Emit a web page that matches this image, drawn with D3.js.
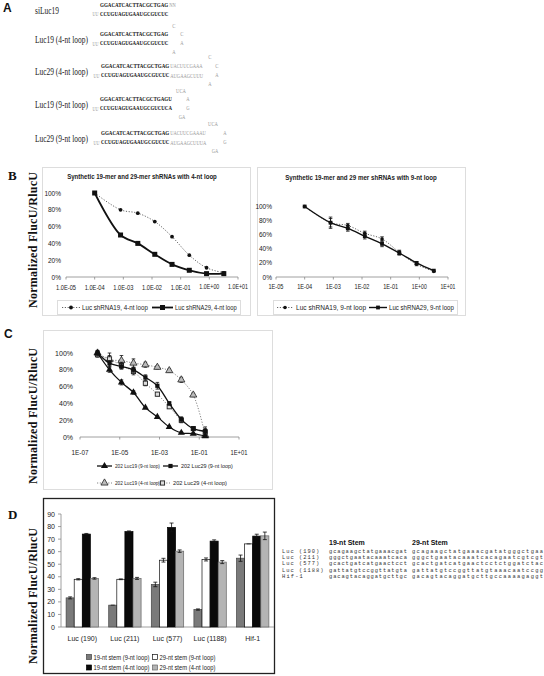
<!DOCTYPE html>
<html><head><meta charset="utf-8">
<script src="https://cdn.jsdelivr.net/npm/d3@7"></script>
<style>body{margin:0;background:#fff}</style>
</head><body>
<script>
// ---------------- DATA ----------------
// Panel A: shRNA constructs
const constructLabels = ["siLuc19","Luc19 (4-nt loop)","Luc29 (4-nt loop)","Luc19 (9-nt loop)","Luc29 (9-nt loop)"];
const topStem = ["GGACATCACTTACGCTGAG","GGACATCACTTACGCTGAG","GGACATCACTTACGCTGAG","GGACATCACTTACGCTGAGU","GGACATCACTTACGCTGAG"];
const topTail = ["NN","","UACUUCGAAA","","UACUUCGAAAU"];
const botStem = ["CCUGUAGUGAAUGCGUCUC","CCUGUAGUGAAUGCGUCUC","CCUGUAGUGAAUGCGUCUC","CCUGUAGUGAAUGCGUCUCA","CCUGUAGUGAAUGCGUCUC"];
const botTail = ["","","AUGAAGCUUU","","AUGAAGCUUUA"];
const loopLetters = [[],["C","C","A","A"],["C","C","A","A"],["UCA","A","G","GA"],["UCA","A","G","GA"]];

// Panel B: synthetic shRNAs (concentration, % FlucU/RlucU)
const concB = [1e-4, 8e-4, 3.2e-3, 1.25e-2, 5e-2, 2e-1, 8e-1, 3.2];
const b4Luc19 = [100, 80, 76, 66, 48, 26, 11, 5];
const b4Luc29 = [100, 50, 40, 27, 15, 8, 4, 4];
const b9Luc19 = [100, 77, 73, 62, 54, 35, 18, 8];
const b9Luc19Err = [0, 8, 3, 3, 3, 3, 2, 0];
const b9Luc29 = [100, 77, 69, 58, 47, 34, 20, 9];
const b9Luc29Err = [0, 6, 4, 4, 4, 3, 2, 0];
const bTicksX = [1e-5,1e-4,1e-3,1e-2,1e-1,1e0,1e1];
const bLabelsLeft = ["1.0E-05","1.0E-04","1.0E-03","1.0E-02","1.0E-01","1.0E+00","1.0E+01"];
const bLabelsRight = ["1E-05","1E-04","1E-03","1E-02","1E-01","1E+00","1E+01"];
const pctTicks = [0,20,40,60,80,100];

// Panel C: expressed shRNAs
const concC = [7.6e-7, 3.05e-6, 1.22e-5, 4.9e-5, 1.95e-4, 7.8e-4, 3.1e-3, 1.25e-2, 5e-2, 2e-1];
const c19nine = [100, 80, 65, 53, 35, 24, 12, 5, 4, 1];
const c19nineErr = [3, 3, 3, 2, 1, 1, 1, 1, 1, 1];
const c29nine = [100, 88, 84, 80, 71, 61, 40, 21, 10, 7];
const c29nineErr = [2, 3, 3, 3, 3, 4, 2, 3, 2, 3];
const c19four = [100, 92, 91, 88, 86, 83, 79, 68, 50, 2];
const c19fourErr = [3, 8, 6, 5, 3, 2, 2, 3, 2, 2];
const c29four = [98, 93, 85, 78, 64, 51, 36, 20, 10, 6];
const c29fourErr = [3, 4, 4, 4, 3, 2, 2, 3, 2, 6];
const cTicksX = [1e-7,1e-5,1e-3,1e-1,1e1];
const cLabelsX = ["1E-07","1E-05","1E-03","1E-01","1E+01"];

// Panel D: bar chart
const dGroups = ["Luc (190)","Luc (211)","Luc (577)","Luc (1188)","Hif-1"];
const dSeries = ["19-nt stem (9-nt loop)","29-nt stem (9-nt loop)","19-nt stem (4-nt loop)","29-nt stem (4-nt loop)"];
const d19nine = [23.2, 17.4, 33.9, 13.9, 54.8];
const d19nineErr = [0.8, 0, 1.8, 0.5, 2.5];
const d29nine = [38, 38, 53.2, 53.8, 66.2];
const d29nineErr = [0.5, 0.3, 1.5, 1.2, 0];
const d19four = [74, 76, 79.3, 68.4, 72.4];
const d19fourErr = [0.5, 0.5, 3.5, 1, 1.5];
const d29four = [38.7, 38.7, 60.4, 51.7, 72.6];
const d29fourErr = [0.6, 0.8, 1, 1.2, 3];
const dTicks = [0,10,20,30,40,50,60,70,80,90];

// Sequence table
const seqNames = ["Luc (190)","Luc (211)","Luc (577)","Luc (1188)","Hif-1"];
const seq19 = ["gcagaagctatgaaacgat","gggctgaatacaaatcaca","gcactgatcatgaactcct","gattatgtccggttatgta","gacagtacaggatgcttgc"];
const seq29 = ["gcagaagctatgaaacgatatgggctgaa","gggctgaatacaaatcacagaatcgtcgt","gcactgatcatgaactcctctggatctac","gattatgtccggttatgtaaacaatccgg","gacagtacaggatgcttgccaaaagaggt"];

// ---------------- DRAW ----------------
const SANS="'Liberation Sans', Arial, sans-serif", SERIF="'Liberation Serif', 'Times New Roman', serif", MONO="'Liberation Mono', 'Courier New', monospace";
const svg = d3.select("body").append("svg").attr("width",544).attr("height",676);
svg.append("rect").attr("width",544).attr("height",676).attr("fill","#fff");

// text helper: if len given, the font is shrunk so its natural width fits len,
// and a vertical stretch keeps the apparent glyph height.
function txt(g,x,y,s,o={}){
  const size=o.size||7;
  const t=g.append("text").attr("x",x).attr("y",y).text(s)
    .attr("font-family",o.family||SANS).attr("font-size",size)
    .attr("font-weight",o.weight||"normal").attr("fill",o.fill||"#222")
    .attr("text-anchor",o.anchor||"start").attr("dominant-baseline","central");
  let tf="";
  if(o.rotate){tf+=`rotate(${o.rotate},${x},${y}) `;}
  if(o.len){
    const w=t.node().getComputedTextLength();
    if(w>o.len){
      const ns=size*o.len/w;
      t.attr("font-size",ns);
      const sy=size/ns;
      tf+=`translate(${x},${y}) scale(1,${sy}) translate(${-x},${-y})`;
    } else {
      t.attr("textLength",o.len).attr("lengthAdjust",o.adjust||"spacing");
    }
  }
  if(tf) t.attr("transform",tf);
  return t;
}

// Panel letters
txt(svg,3,8,"A",{size:12,weight:"bold",family:SANS,fill:"#111"});
txt(svg,8,175,"B",{size:13,weight:"bold",family:SERIF,fill:"#111"});
txt(svg,4,334,"C",{size:12,weight:"bold",family:SANS,fill:"#111"});
txt(svg,8,514,"D",{size:13,weight:"bold",family:SERIF,fill:"#111"});

// ----- Panel A -----
const gA = svg.append("g");
const rowTop = [4.5, 34, 66, 99, 133];
const labelLen = [24,53,53,53,53];
const stemX = [100,100,101,100,101];
const loopPos = [
  [],
  [[174,-8],[182,0],[182,9],[174,18]],
  [[210,-9],[217,0],[217,9],[210,18]],
  [[181,-8],[188,0],[188,9],[182,18]],
  [[213,-9],[225,0],[225,9],[215,18]]
];
const GRAY="#9a9a9a";
constructLabels.forEach((lab,i)=>{
  const ty=rowTop[i], by=ty+9.3;
  txt(gA,35,ty+6,lab,{size:10,family:SERIF,fill:"#222",len:labelLen[i]});
  const sx=stemX[i];
  const tl = topStem[i].length*3.6;
  txt(gA,sx,ty,topStem[i],{size:6,weight:"bold",family:SERIF,fill:"#111",len:tl});
  if(topTail[i]) txt(gA,sx+tl+0.8,ty,topTail[i],{size:6,family:SERIF,fill:GRAY,len:topTail[i].length*3.25});
  txt(gA,sx-7.5,by,"UU",{size:6,family:SERIF,fill:GRAY,len:6});
  const bl = botStem[i].length*3.6;
  txt(gA,sx,by,botStem[i],{size:6,weight:"bold",family:SERIF,fill:"#111",len:bl});
  if(botTail[i]) txt(gA,sx+bl+0.8,by,botTail[i],{size:6,family:SERIF,fill:GRAY,len:botTail[i].length*3.3});
  loopLetters[i].forEach((L,j)=>{
    txt(gA,loopPos[i][j][0],ty+loopPos[i][j][1],L,{size:6,family:SERIF,fill:GRAY,anchor:"middle",len:L.length*3.3});
  });
});

// ----- generic log-x line chart -----
function yLabel(cy){
  txt(svg,33,cy,"Normalized FlucU/RlucU",{size:12,weight:"bold",family:SERIF,fill:"#111",anchor:"middle",rotate:-90,len:136});
}
function lineChart(c){
  const g=svg.append("g");
  const x=d3.scaleLog().domain(c.xd).range(c.xr);
  const y=d3.scaleLinear().domain([0,100]).range(c.yr);
  g.append("line").attr("x1",c.xr[0]).attr("x2",c.xr[1]).attr("y1",c.yr[0]).attr("y2",c.yr[0]).attr("stroke","#888").attr("stroke-width",0.8);
  c.xt.forEach((v,i)=>{
    g.append("line").attr("x1",x(v)).attr("x2",x(v)).attr("y1",c.yr[0]).attr("y2",c.yr[0]+2.5).attr("stroke","#888").attr("stroke-width",0.8);
    txt(g,x(v),c.xly,c.xl[i],{size:c.fs,anchor:"middle",len:c.xlen});
  });
  pctTicks.forEach(v=>txt(g,c.xr[0]-c.ylg,y(v),v+"%",{size:c.fs,anchor:"end"}));
  c.series.forEach(s=>{
    const pts=c.conc.map((cv,i)=>[x(cv),y(s.v[i])]);
    g.append("path").attr("d",d3.line().curve(d3.curveCatmullRom.alpha(0.5))(pts))
      .attr("fill","none").attr("stroke",s.color).attr("stroke-width",s.w).attr("stroke-dasharray",s.dash||null);
    if(s.e){
      c.conc.forEach((cv,i)=>{
        if(!s.e[i]) return;
        const xx=x(cv), y1=y(s.v[i]+s.e[i]), y2=y(s.v[i]-s.e[i]);
        g.append("line").attr("x1",xx).attr("x2",xx).attr("y1",y1).attr("y2",y2).attr("stroke","#111").attr("stroke-width",0.8);
        [y1,y2].forEach(yy=>g.append("line").attr("x1",xx-1.8).attr("x2",xx+1.8).attr("y1",yy).attr("y2",yy).attr("stroke","#111").attr("stroke-width",0.8));
      });
    }
    pts.forEach(p=>marker(g,s.m,p[0],p[1],s.ms));
  });
  return g;
}
function marker(g,type,x,y,sz){
  if(type==="dot") g.append("circle").attr("cx",x).attr("cy",y).attr("r",sz).attr("fill","#111");
  else if(type==="square") g.append("rect").attr("x",x-sz/2).attr("y",y-sz/2).attr("width",sz).attr("height",sz).attr("fill","#111");
  else if(type==="osquare") g.append("rect").attr("x",x-sz/2).attr("y",y-sz/2).attr("width",sz).attr("height",sz).attr("fill","#ddd").attr("stroke","#222").attr("stroke-width",0.9);
  else if(type==="tri") g.append("path").attr("d",d3.symbol(d3.symbolTriangle,sz)()).attr("transform",`translate(${x},${y})`).attr("fill","#111");
  else if(type==="otri") g.append("path").attr("d",d3.symbol(d3.symbolTriangle,sz)()).attr("transform",`translate(${x},${y})`).attr("fill","#bbb").attr("stroke","#222").attr("stroke-width",0.8);
}
function legendItem(g,x1,x2,y,s,label,tx,tlen,fs){
  g.append("line").attr("x1",x1).attr("x2",x2).attr("y1",y).attr("y2",y).attr("stroke",s.color).attr("stroke-width",s.w).attr("stroke-dasharray",s.dash||null);
  marker(g,s.m,(x1+x2)/2,y,s.ms);
  txt(g,tx,y,label,{size:fs,len:tlen});
}

// ----- Panel B -----
yLabel(240);
svg.append("rect").attr("x",42.5).attr("y",167.5).attr("width",208).attr("height",148).attr("fill","none").attr("stroke","#ddd");
svg.append("rect").attr("x",257.5).attr("y",167.5).attr("width",208).attr("height",148).attr("fill","none").attr("stroke","#ddd");
txt(svg,142,176,"Synthetic 19-mer and 29-mer shRNAs with 4-nt loop",{size:7,weight:"bold",anchor:"middle",len:150});
txt(svg,361,177,"Synthetic 19-mer and 29 mer shRNAs with 9-nt loop",{size:7,weight:"bold",anchor:"middle",len:152});
const sB19L={v:b4Luc19,color:"#555",w:0.9,dash:"1.2,1.6",m:"dot",ms:1.9};
const sB29L={v:b4Luc29,color:"#111",w:1.8,m:"square",ms:5};
const gBL=lineChart({xd:[1e-5,10],xr:[66,238],yr:[277,193],xt:bTicksX,xl:bLabelsLeft,xly:287,xlen:20,fs:6.5,ylg:5,conc:concB,series:[sB19L,sB29L]});
svg.append("rect").attr("x",57.5).attr("y",300.5).attr("width",183).attr("height",14).attr("fill","none").attr("stroke","#ddd");
legendItem(gBL,62,80,307.5,sB19L,"Luc shRNA19, 4-nt loop",82,66,6.5);
legendItem(gBL,152,173,307.5,sB29L,"Luc shRNA29, 4-nt loop",175,62,6.5);

const sB19R={v:b9Luc19,e:b9Luc19Err,color:"#555",w:0.9,dash:"1.2,1.6",m:"dot",ms:1.8};
const sB29R={v:b9Luc29,e:b9Luc29Err,color:"#111",w:1.4,m:"square",ms:3.8};
const gBR=lineChart({xd:[1e-5,10],xr:[276,448],yr:[277,206.5],xt:bTicksX,xl:bLabelsRight,xly:287,xlen:15,fs:6.5,ylg:4,conc:concB,series:[sB19R,sB29R]});
svg.append("rect").attr("x",273.5).attr("y",300.5).attr("width",184).attr("height",14).attr("fill","none").attr("stroke","#ddd");
legendItem(gBR,277,293,307.5,sB19R,"Luc shRNA19, 9-nt loop",296,70,6.5);
legendItem(gBR,369,387,307.5,sB29R,"Luc shRNA29, 9-nt loop",389,65,6.5);

// ----- Panel C -----
yLabel(416);
svg.append("rect").attr("x",43.5).attr("y",330.5).attr("width",229).attr("height",159).attr("fill","none").attr("stroke","#ddd");
const sC19n={v:c19nine,e:c19nineErr,color:"#111",w:1.3,m:"tri",ms:22};
const sC29n={v:c29nine,e:c29nineErr,color:"#111",w:1.3,m:"square",ms:4.2};
const sC19f={v:c19four,e:c19fourErr,color:"#777",w:0.9,dash:"1.2,1.6",m:"otri",ms:22};
const sC29f={v:c29four,e:c29fourErr,color:"#777",w:0.9,dash:"1.2,1.6",m:"osquare",ms:4.2};
const gC=lineChart({xd:[1e-7,10],xr:[80,239],yr:[437,353],xt:cTicksX,xl:cLabelsX,xly:452,xlen:17,fs:7,ylg:7,conc:concC,series:[sC19f,sC29f,sC19n,sC29n]});
legendItem(gC,97,112,466,sC19n,"202 Luc19 (9-nt loop)",115,45,5.8);
legendItem(gC,163,178,466,sC29n,"202 Luc29 (9-nt loop)",181,52,5.8);
legendItem(gC,97,112,483,sC19f,"202 Luc19 (4-nt loop)",115,45,5.8);
legendItem(gC,155,170,483,sC29f,"202 Luc29 (4-nt loop)",173,54,5.8);

// ----- Panel D -----
yLabel(596);
svg.append("rect").attr("x",43.5).attr("y",498.5).attr("width",231).attr("height",175).attr("fill","none").attr("stroke","#222").attr("stroke-width",1.3);
const gD=svg.append("g");
const xD=d3.scaleBand().domain(dGroups).range([61,274]).paddingInner(0.24).paddingOuter(0.12);
const xS=d3.scaleBand().domain(dSeries).range([0,xD.bandwidth()]);
const yD=d3.scaleLinear().domain([0,90]).range([627,514]);
gD.append("line").attr("x1",61).attr("x2",61).attr("y1",yD(90)).attr("y2",yD(0)).attr("stroke","#888").attr("stroke-width",0.8);
gD.append("line").attr("x1",61).attr("x2",274).attr("y1",yD(0)).attr("y2",yD(0)).attr("stroke","#888").attr("stroke-width",0.8);
dTicks.forEach(v=>{
  gD.append("line").attr("x1",58).attr("x2",61).attr("y1",yD(v)).attr("y2",yD(v)).attr("stroke","#888").attr("stroke-width",0.8);
  txt(gD,55,yD(v),String(v),{size:7,anchor:"end"});
});
const dFill=["#7a7a7a","#ffffff","#0a0a0a","#b4b4b4"];
const dStroke=["#444","#111","#000","#666"];
const dVals=[d19nine,d29nine,d19four,d29four];
const dErrs=[d19nineErr,d29nineErr,d19fourErr,d29fourErr];
dGroups.forEach((gname,gi)=>{
  dSeries.forEach((s,si)=>{
    const v=dVals[si][gi], e=dErrs[si][gi];
    const bx=xD(gname)+xS(s), bw=xS.bandwidth();
    gD.append("rect").attr("x",bx).attr("y",yD(v)).attr("width",bw).attr("height",yD(0)-yD(v))
      .attr("fill",dFill[si]).attr("stroke",dStroke[si]).attr("stroke-width",0.7);
    const cx=bx+bw/2;
    if(e>0){
      gD.append("line").attr("x1",cx).attr("x2",cx).attr("y1",yD(v+e)).attr("y2",yD(v-e)).attr("stroke","#111").attr("stroke-width",0.8);
      [v+e,v-e].forEach(t=>gD.append("line").attr("x1",cx-2).attr("x2",cx+2).attr("y1",yD(t)).attr("y2",yD(t)).attr("stroke","#111").attr("stroke-width",0.8));
    } else {
      gD.append("line").attr("x1",cx-2).attr("x2",cx+2).attr("y1",yD(v)).attr("y2",yD(v)).attr("stroke","#111").attr("stroke-width",0.8);
    }
  });
  txt(gD,xD(gname)+xD.bandwidth()/2,638,gname,{size:7,anchor:"middle"});
});
const legPos=[[89,657],[155,657],[89,667.5],[155,667.5]];
dSeries.forEach((s,si)=>{
  gD.append("rect").attr("x",legPos[si][0]-2.5).attr("y",legPos[si][1]-2.5).attr("width",5).attr("height",5)
    .attr("fill",dFill[si]).attr("stroke",dStroke[si]).attr("stroke-width",0.7);
  txt(gD,legPos[si][0]+4.5,legPos[si][1],s,{size:6.5,len:56});
});

// ----- Sequence table -----
const gS=svg.append("g");
txt(gS,329,542,"19-nt Stem",{size:7,weight:"bold",fill:"#111"});
txt(gS,412,542,"29-nt Stem",{size:7,weight:"bold",fill:"#111"});
seqNames.forEach((n,i)=>{
  const yy=551.7+i*6.35;
  txt(gS,282,yy,n,{size:5.4,family:MONO,fill:"#333",len:n.length*4.15});
  txt(gS,329,yy,seq19[i],{size:5.4,family:MONO,fill:"#333",len:78});
  txt(gS,412,yy,seq29[i],{size:5.4,family:MONO,fill:"#333",len:131});
});
</script></body></html>
